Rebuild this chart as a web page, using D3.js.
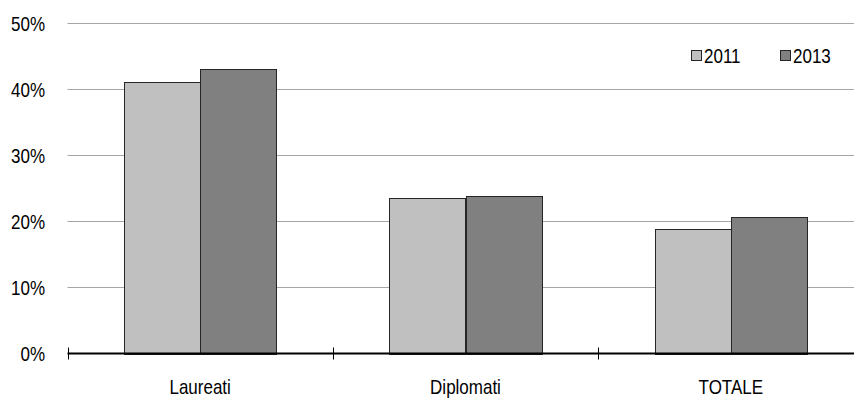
<!DOCTYPE html>
<html><head><meta charset="utf-8">
<script src="https://cdn.jsdelivr.net/npm/d3@7"></script>
<style>body{margin:0;background:#fff}</style>
</head><body>
<svg id="c" width="854" height="398"></svg>
<script>
const categories = ["Laureati", "Diplomati", "TOTALE"];
const seriesNames = ["2011", "2013"];
const values2011 = [41.0, 23.5, 18.8];
const values2013 = [43.0, 23.8, 20.7];
const yTicks = [0, 10, 20, 30, 40, 50];

(function () {
const colors = {"2011": "#c0c0c0", "2013": "#808080"};
const font = "'Liberation Sans', Arial, sans-serif";
const fs = 20, sx = 0.85;
const svg = d3.select("#c");
const mLeft = 67.5, mRight = 863.5, mTop = 23, mBottom = 353.5;

const x = d3.scaleBand().domain(categories).range([mLeft, mRight]).paddingInner(0).paddingOuter(0);
const xs = d3.scaleBand().domain(seriesNames).range([0, x.bandwidth()]).paddingInner(0).paddingOuter(0.745);
const y = d3.scaleLinear().domain([0, 50]).range([mBottom, mTop]);

function label(sel, tx, ty, anchor) {
  return sel.attr("transform", d => `translate(${tx(d)},${ty(d)}) scale(${sx},1)`)
    .attr("text-anchor", anchor).attr("font-family", font).attr("font-size", fs).attr("fill", "#000");
}

svg.append("g").selectAll("line").data(yTicks.filter(d => d > 0)).join("line")
  .attr("x1", mLeft).attr("x2", 854)
  .attr("y1", d => Math.round(y(d)) + 0.5).attr("y2", d => Math.round(y(d)) + 0.5)
  .attr("stroke", "#a6a6a6").attr("stroke-width", 1);

label(svg.append("g").selectAll("text").data(yTicks).join("text"), () => 45, d => y(d) + 7.5, "end")
  .text(d => d + "%");

const data = categories.map((c, i) => ({cat: c, vals: [{s: "2011", v: values2011[i]}, {s: "2013", v: values2013[i]}]}));
const g = svg.append("g");
data.forEach(d => {
  g.append("g").selectAll("rect").data(d.vals).join("rect")
    .attr("x", e => Math.round(x(d.cat) + xs(e.s)) + 0.5)
    .attr("width", Math.round(xs.bandwidth()))
    .attr("y", e => Math.round(y(e.v)) + 0.5)
    .attr("height", e => Math.round(mBottom) - Math.round(y(e.v)))
    .attr("fill", e => colors[e.s]).attr("stroke", "#262626").attr("stroke-width", 1);
});

const xAxis = svg.append("g");
xAxis.append("line").attr("x1", mLeft).attr("x2", 854).attr("y1", mBottom).attr("y2", mBottom)
  .attr("stroke", "#000").attr("stroke-width", 2);
const tickPos = [mLeft].concat(categories.slice(1).map(c => x(c)));
xAxis.selectAll("line.t").data(tickPos).join("line").attr("class", "t")
  .attr("x1", d => Math.round(d) + 0.5).attr("x2", d => Math.round(d) + 0.5)
  .attr("y1", mBottom - 6).attr("y2", mBottom + 6).attr("stroke", "#000").attr("stroke-width", 1);
label(xAxis.selectAll("text").data(categories).join("text"), d => x(d) + x.bandwidth() / 2, () => 393.5, "middle")
  .text(d => d);

const legX = [691, 780];
const leg = svg.append("g");
seriesNames.forEach((s, i) => {
  leg.append("rect").attr("x", legX[i] + 0.5).attr("y", 50.5).attr("width", 10).attr("height", 10)
    .attr("fill", colors[s]).attr("stroke", "#262626").attr("stroke-width", 1);
  label(leg.append("text").datum(s), () => legX[i] + 13, () => 62.5, "start").text(s);
});
})();
</script>
</body></html>
